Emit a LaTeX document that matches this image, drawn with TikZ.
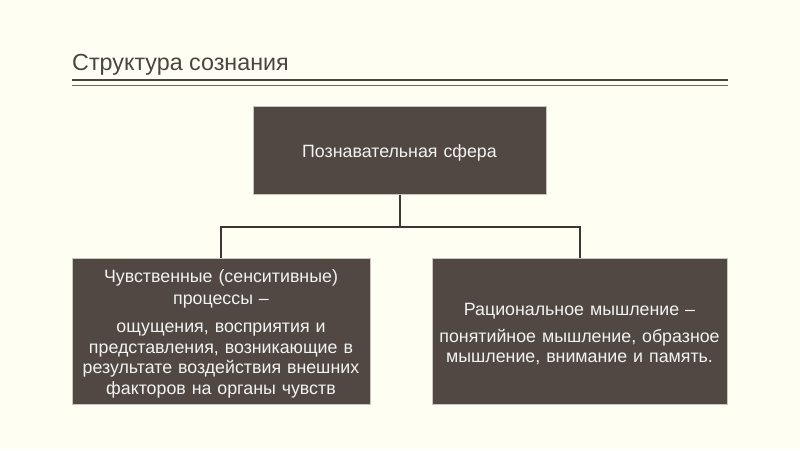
\documentclass[tikz,border=0pt]{standalone}
\usepackage{fontspec}
\setmainfont{Liberation Sans}
\definecolor{bg}{HTML}{FFFEF2}
\definecolor{boxfill}{HTML}{524843}
\definecolor{boxedge}{HTML}{C9C6C0}
\definecolor{ink}{HTML}{4A4540}
\definecolor{conncol}{HTML}{3C3732}
\begin{document}
\begin{tikzpicture}[x=1pt,y=-1pt,
  box/.style={draw=boxedge, line width=1pt, fill=boxfill, text=white!95!black,
    align=center, inner sep=2pt, font=\fontsize{17.8}{20.5}\selectfont,
    execute at begin node={\rule{0pt}{19pt}}},
  conn/.style={draw=conncol, line width=2pt},
  rulethick/.style={draw=ink, line width=2.5pt},
  rulethin/.style={draw=ink!80, line width=0.9pt}]
\useasboundingbox[fill=bg] (0,0) rectangle (800,450);
\node[anchor=base west, text=ink, inner sep=0pt, font=\fontsize{23.3}{27}\selectfont] (title) at (72,70) {Структура сознания};
\coordinate (r1a) at (72,80); \coordinate (r1b) at (728,80);
\coordinate (r2a) at (72,85); \coordinate (r2b) at (728,85);
\draw[rulethick] (r1a) -- (r1b);
\draw[rulethin] (r2a) -- (r2b);
\node[box, minimum width=293, minimum height=88, text width=289] (top) at (399.5,150) {Познавательная сфера};
\node[box, minimum width=296, minimum height=146, text width=294] (left) at (221,331)
  {Чувственные (сенситивные)\\[1pt]процессы –\\[8pt]ощущения, восприятия и\\представления, возникающие в\\результате воздействия внешних\\факторов на органы чувств};
\node[box, minimum width=293, minimum height=146, text width=291] (right) at (579.5,331)
  {Рациональное мышление –\\[6pt]понятийное мышление, образное\\мышление, внимание и память.};
\draw[conn] (top.south) -- ++(0,32) coordinate (j);
\draw[conn] (j) -| (left.north);
\draw[conn] (j) -| (right.north);
\end{tikzpicture}
\end{document}
